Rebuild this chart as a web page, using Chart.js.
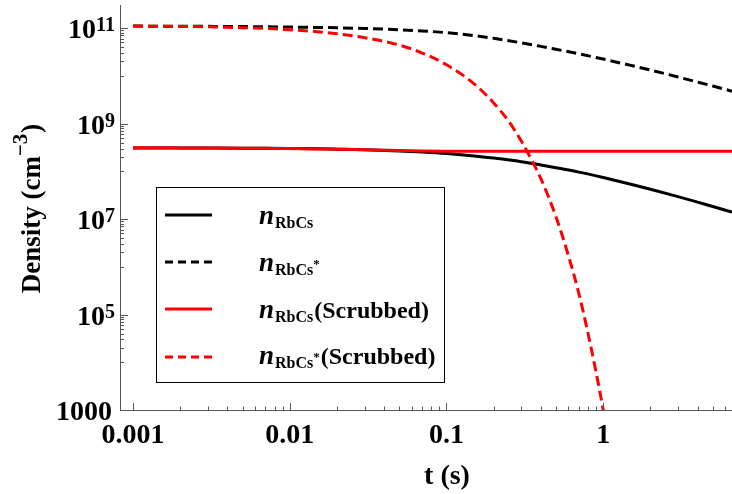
<!DOCTYPE html>
<html>
<head>
<meta charset="utf-8">
<script src="https://cdn.jsdelivr.net/npm/chart.js@4.4.0/dist/chart.umd.min.js"></script>
<style>
  html, body { margin: 0; padding: 0; background: #fff; }
  canvas { display: block; }
</style>
</head>
<body>
<canvas id="density" width="732" height="494"></canvas>
<script>
// time grid (s) shared by three of the curves
const tGrid = [0.001, 0.0015, 0.002, 0.003, 0.005, 0.007, 0.01, 0.015, 0.02, 0.03, 0.05, 0.07,
               0.1, 0.15, 0.2, 0.3, 0.4, 0.5, 0.7, 1, 1.5, 2, 3, 4, 5, 6.63];
// densities (cm^-3)
const nRbCs = [3.09e8, 3.085e8, 3.08e8, 3.07e8, 3.05e8, 3.03e8, 3.0e8, 2.96e8, 2.91e8, 2.83e8, 2.67e8, 2.53e8,
               2.35e8, 2.1e8, 1.89e8, 1.59e8, 1.36e8, 1.19e8, 9.6e7, 7.4e7, 5.37e7, 4.21e7, 2.94e7, 2.26e7, 1.83e7, 1.4e7];
const nRbCsStar = [1.1e11, 1.095e11, 1.09e11, 1.085e11, 1.075e11, 1.065e11, 1.05e11, 1.03e11, 1.015e11, 9.8e10, 9.2e10, 8.7e10,
                   8.0e10, 6.95e10, 6.1e10, 4.91e10, 4.13e10, 3.59e10, 2.88e10, 2.24e10, 1.65e10, 1.32e10, 9.44e9, 7.39e9, 6.1e9, 4.75e9];
const nRbCsScrubbed = [3.1e8, 3.1e8, 3.09e8, 3.07e8, 3.05e8, 3.02e8, 2.99e8, 2.94e8, 2.9e8, 2.82e8, 2.72e8, 2.67e8,
                       2.64e8, 2.63e8, 2.63e8, 2.63e8, 2.63e8, 2.63e8, 2.63e8, 2.63e8, 2.63e8, 2.63e8, 2.63e8, 2.63e8, 2.63e8, 2.63e8];
// the scrubbed excited curve falls steeply, so it has its own time grid
const tScrubbedStar = [0.001, 0.0015, 0.002, 0.003, 0.005, 0.007, 0.01, 0.015, 0.02, 0.03, 0.05, 0.07,
                       0.1, 0.15, 0.2, 0.25, 0.3, 0.35, 0.4, 0.5, 0.6, 0.7, 0.8, 0.9, 1.0, 1.05];
const nRbCsStarScrubbed = [1.1e11, 1.09e11, 1.08e11, 1.06e11, 1.02e11, 9.8e10, 9.2e10, 8.4e10, 7.6e10, 6.3e10, 4.4e10, 3.0e10,
                           1.7e10, 6.8e9, 2.7e9, 1.1e9, 4.3e8, 1.7e8, 7.0e7, 1.1e7, 1.7e6, 2.7e5, 4.0e4, 6.2e3, 1.0e3, 390];

const xTickValues = [0.001, 0.01, 0.1, 1];
const xTickLabels = ['0.001', '0.01', '0.1', '1'];
const yTickValues = [1e11, 1e9, 1e7, 1e5, 1e3];
const yTickLabels = [['10', '11'], ['10', '9'], ['10', '7'], ['10', '5'], ['1000', '']];
const yMinorDecades = [1e4, 1e6, 1e8, 1e10];

// legend: [italic symbol, subscript, star, tail]
const legendLabels = [
  ['n', 'RbCs', '', ''],
  ['n', 'RbCs', '*', ''],
  ['n', 'RbCs', '', '(Scrubbed)'],
  ['n', 'RbCs', '*', '(Scrubbed)']
];
const legendColors = ['#000000', '#000000', '#ff0000', '#ff0000'];
const legendDashed = [false, true, false, true];

const serif = '"Liberation Serif", "Times New Roman", Times, serif';
const DASH = [10, 5];

function xy(ts, ns) {
  return ts.map((t, i) => ({ x: t, y: ns[i] }));
}

const decor = {
  id: 'decor',
  afterDraw(chart) {
    const ctx = chart.ctx;
    const xs = chart.scales.x, ys = chart.scales.y;
    const a = chart.chartArea;
    ctx.save();

    // inward ticks
    ctx.strokeStyle = '#555';
    ctx.lineWidth = 1;
    ctx.beginPath();
    xTickValues.forEach(v => {
      const px = Math.round(xs.getPixelForValue(v)) + 0.5;
      ctx.moveTo(px, a.bottom); ctx.lineTo(px, a.bottom - 7);
      for (let m = 2; m <= 9; m++) {
        if (v * m > xs.max) break;
        const mp = Math.round(xs.getPixelForValue(v * m)) + 0.5;
        ctx.moveTo(mp, a.bottom); ctx.lineTo(mp, a.bottom - 3.5);
      }
    });
    yTickValues.forEach(v => {
      const py = Math.round(ys.getPixelForValue(v)) + 0.5;
      ctx.moveTo(a.left, py); ctx.lineTo(a.left + 8, py);
    });
    yMinorDecades.forEach(d => {
      for (let m = 1; m <= 9; m++) {
        const py = Math.round(ys.getPixelForValue(d * m)) + 0.5;
        ctx.moveTo(a.left, py); ctx.lineTo(a.left + 4, py);
      }
    });
    ctx.stroke();

    ctx.fillStyle = '#000';
    // x tick labels
    ctx.font = 'bold 28px ' + serif;
    ctx.textAlign = 'center';
    ctx.textBaseline = 'alphabetic';
    xTickValues.forEach((v, i) => {
      ctx.fillText(xTickLabels[i], xs.getPixelForValue(v), 443);
    });

    // y tick labels with exponents
    ctx.textAlign = 'left';
    yTickValues.forEach((v, i) => {
      const py = ys.getPixelForValue(v);
      const [base, exp] = yTickLabels[i];
      ctx.font = 'bold 20px ' + serif;
      const we = exp ? ctx.measureText(exp).width : 0;
      ctx.font = 'bold 28px ' + serif;
      const wb = ctx.measureText(base).width;
      const right = exp ? 115 : 112;
      ctx.fillText(base, right - we - wb, py + 10);
      if (exp) {
        ctx.font = 'bold 20px ' + serif;
        ctx.fillText(exp, right - we, py + 3);
      }
    });

    // x title
    ctx.font = 'bold 28px ' + serif;
    ctx.textAlign = 'center';
    ctx.fillText('t (s)', 447, 484);

    // y title, rotated
    ctx.save();
    ctx.translate(40, 209);
    ctx.rotate(-Math.PI / 2);
    ctx.textAlign = 'left';
    ctx.font = 'bold 27px ' + serif;
    const w1 = ctx.measureText('Density (cm').width;
    const w3 = ctx.measureText(')').width;
    ctx.font = 'bold 21px ' + serif;
    const w2 = ctx.measureText('\u22123').width;
    let x0 = -(w1 + w2 + w3) / 2;
    ctx.font = 'bold 27px ' + serif;
    ctx.fillText('Density (cm', x0, 0);
    ctx.font = 'bold 21px ' + serif;
    ctx.fillText('\u22123', x0 + w1, -13);
    ctx.font = 'bold 27px ' + serif;
    ctx.fillText(')', x0 + w1 + w2 + 1, 0);
    ctx.restore();

    // legend box
    ctx.fillStyle = '#fff';
    ctx.fillRect(156.5, 187.5, 288, 195);
    ctx.strokeStyle = '#000';
    ctx.lineWidth = 1;
    ctx.strokeRect(156.5, 187.5, 288, 195);
    const rowY = [215, 262, 309, 357];
    const textY = [224, 271, 318, 364];
    legendLabels.forEach((lab, i) => {
      ctx.beginPath();
      ctx.strokeStyle = legendColors[i];
      ctx.lineWidth = 3;
      ctx.setLineDash(legendDashed[i] ? [8, 5] : []);
      ctx.moveTo(165, rowY[i]); ctx.lineTo(212, rowY[i]);
      ctx.stroke();
      ctx.setLineDash([]);

      ctx.fillStyle = '#000';
      ctx.textAlign = 'left';
      let x = 259;
      const by = textY[i];
      ctx.font = 'italic bold 27px ' + serif;
      ctx.fillText(lab[0], x, by);
      x += ctx.measureText(lab[0]).width + 1;
      ctx.font = 'bold 16px ' + serif;
      ctx.fillText(lab[1], x, by + 4);
      x += ctx.measureText(lab[1]).width;
      if (lab[2]) {
        ctx.font = 'bold 13px ' + serif;
        ctx.fillText(lab[2], x, by - 3);
        x += ctx.measureText(lab[2]).width;
      }
      if (lab[3]) {
        ctx.font = 'bold 24px ' + serif;
        ctx.fillText(lab[3], x + 1, by);
      }
    });
    ctx.restore();
  }
};

new Chart('density', {
  type: 'line',
  data: {
    datasets: [
      {
        label: 'nRbCs*(Scrubbed)',
        data: xy(tScrubbedStar, nRbCsStarScrubbed),
        borderColor: '#ff0000',
        borderDash: DASH
      },
      {
        label: 'nRbCs(Scrubbed)',
        data: xy(tGrid, nRbCsScrubbed),
        borderColor: '#ff0000'
      },
      {
        label: 'nRbCs',
        data: xy(tGrid, nRbCs),
        borderColor: '#000000'
      },
      {
        label: 'nRbCs*',
        data: xy(tGrid, nRbCsStar),
        borderColor: '#000000',
        borderDash: DASH
      }
    ]
  },
  options: {
    responsive: false,
    animation: false,
    events: [],
    devicePixelRatio: 1,
    layout: { padding: { top: 5, right: 0, left: 0, bottom: 0 } },
    elements: {
      point: { radius: 0 },
      line: { borderWidth: 3, fill: false, cubicInterpolationMode: 'monotone' }
    },
    plugins: {
      legend: { display: false },
      tooltip: { enabled: false }
    },
    scales: {
      x: {
        type: 'logarithmic',
        min: 8.26e-4,
        max: 6.63,
        grid: { display: false },
        ticks: { display: false },
        border: { display: true, color: '#555', width: 1 },
        afterFit(scale) { scale.height = 84; }
      },
      y: {
        type: 'logarithmic',
        min: 1000,
        max: 3.04e11,
        grid: { display: false },
        ticks: { display: false },
        border: { display: true, color: '#555', width: 1 },
        afterFit(scale) { scale.width = 120; }
      }
    }
  },
  plugins: [decor]
});
</script>
</body>
</html>
